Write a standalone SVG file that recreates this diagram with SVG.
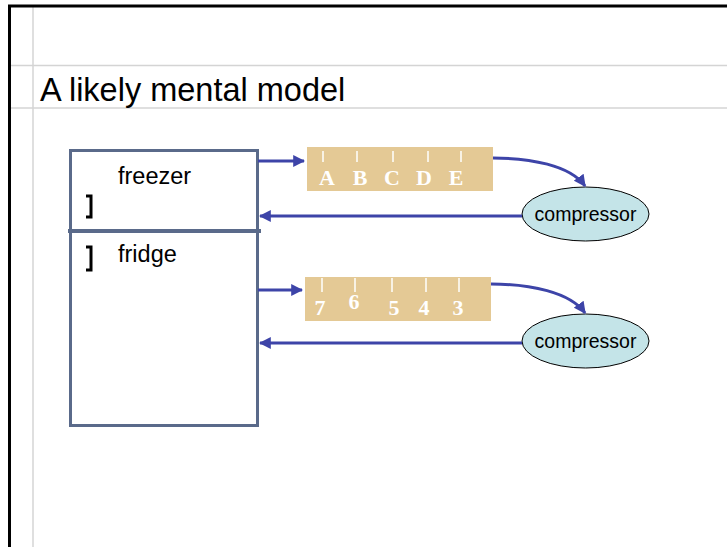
<svg xmlns="http://www.w3.org/2000/svg" width="727" height="547" viewBox="0 0 727 547">
<defs>
<style>
.frame{fill:none;stroke:#000;stroke-width:3}
.grid{stroke:#d4d4d4;stroke-width:1.5;fill:none}
.box{fill:#fff;stroke:#5a6a8a;stroke-width:3}
.div{stroke:#5a6a8a;stroke-width:4}
.brk{fill:none;stroke:#000;stroke-width:3}
.lbl{font-family:"Liberation Sans",Arial,sans-serif;font-size:23.5px;fill:#000}
.title{font-family:"Liberation Sans",Arial,sans-serif;font-size:32.5px;fill:#000}
.tan{fill:#e4c995}
.tick{stroke:#fff;stroke-width:1.5}
.tl{font-family:"Liberation Serif","Times New Roman",serif;font-weight:bold;font-size:22px;fill:#fff;text-anchor:middle}
.ell{fill:#c4e4e8;stroke:#000;stroke-width:1}
.ct{font-family:"Liberation Sans",Arial,sans-serif;font-size:19.5px;fill:#000;text-anchor:middle}
.con{fill:none;stroke:#3d44a8;stroke-width:3}
</style>
<marker id="ah" viewBox="0 0 10 10" refX="9" refY="5" markerWidth="4" markerHeight="4" orient="auto" markerUnits="strokeWidth">
<path d="M0,0 L10,5 L0,10 z" fill="#3d44a8"/>
</marker>
</defs>
<rect width="727" height="547" fill="#fff"/>
<g id="frame">
<line class="grid" x1="33" y1="6" x2="33" y2="547"/>
<line class="grid" x1="9" y1="65.5" x2="727" y2="65.5"/>
<line class="grid" x1="9" y1="108" x2="727" y2="108"/>
<path class="frame" d="M9.5,547 V6 H727"/>
</g>
<text class="title" x="40" y="101">A likely mental model</text>
<g id="fridge">
<rect class="box" x="70.5" y="150.5" width="187" height="275"/>
<line class="div" x1="68" y1="231" x2="261" y2="231"/>
<path class="brk" d="M86,196 H91 V217 H86"/>
<path class="brk" d="M86,247 H91 V270 H86"/>
<text class="lbl" x="118" y="184">freezer</text>
<text class="lbl" x="118" y="262">fridge</text>
</g>
<g id="queue1">
<rect class="tan" x="307" y="147" width="186" height="44"/>
<g class="tick">
<line x1="323" y1="151" x2="323" y2="162"/>
<line x1="357" y1="151" x2="357" y2="162"/>
<line x1="393" y1="151" x2="393" y2="162"/>
<line x1="428" y1="151" x2="428" y2="162"/>
<line x1="461" y1="151" x2="461" y2="162"/>
</g>
<text class="tl" x="327" y="185">A</text>
<text class="tl" x="360" y="185">B</text>
<text class="tl" x="392" y="185">C</text>
<text class="tl" x="424" y="185">D</text>
<text class="tl" x="456" y="185">E</text>
</g>
<g id="queue2">
<rect class="tan" x="305" y="277" width="186" height="44"/>
<g class="tick">
<line x1="322" y1="278" x2="322" y2="292"/>
<line x1="355" y1="278" x2="355" y2="292"/>
<line x1="392" y1="278" x2="392" y2="292"/>
<line x1="426" y1="278" x2="426" y2="292"/>
<line x1="459" y1="278" x2="459" y2="292"/>
</g>
<text class="tl" x="320" y="315">7</text>
<text class="tl" x="354" y="309">6</text>
<text class="tl" x="394" y="315">5</text>
<text class="tl" x="424" y="315">4</text>
<text class="tl" x="458" y="315">3</text>
</g>
<g id="compressor1">
<ellipse class="ell" cx="585.5" cy="214" rx="63.5" ry="27"/>
<text class="ct" x="585.5" y="221">compressor</text>
</g>
<g id="compressor2">
<ellipse class="ell" cx="585.5" cy="341" rx="63.5" ry="27"/>
<text class="ct" x="585.5" y="348">compressor</text>
</g>
<g id="connectors">
<line class="con" x1="258" y1="161" x2="304" y2="161" marker-end="url(#ah)"/>
<path class="con" d="M493,158 C530,158 570,165 585,186" marker-end="url(#ah)"/>
<line class="con" x1="522" y1="216" x2="260" y2="216" marker-end="url(#ah)"/>
<line class="con" x1="258" y1="290" x2="302" y2="290" marker-end="url(#ah)"/>
<path class="con" d="M491,284 C530,284 570,292 585,313" marker-end="url(#ah)"/>
<line class="con" x1="522" y1="343" x2="260" y2="343" marker-end="url(#ah)"/>
</g>
</svg>
